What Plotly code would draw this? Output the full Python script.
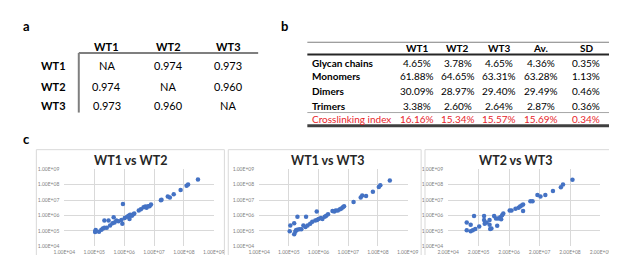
import plotly.graph_objects as go

W, H = 617, 255

# ---------------- data ----------------
a_labels = ["WT1", "WT2", "WT3"]
a_values = [["NA", "0.974", "0.973"],
            ["0.974", "NA", "0.960"],
            ["0.973", "0.960", "NA"]]

b_columns = ["WT1", "WT2", "WT3", "Av.", "SD"]
b_rows = ["Glycan chains", "Monomers", "Dimers", "Trimers", "Crosslinking index"]
b_glycan = ["4.65%", "3.78%", "4.65%", "4.36%", "0.35%"]
b_monomers = ["61.88%", "64.65%", "63.31%", "63.28%", "1.13%"]
b_dimers = ["30.09%", "28.97%", "29.40%", "29.49%", "0.46%"]
b_trimers = ["3.38%", "2.60%", "2.64%", "2.87%", "0.36%"]
b_crosslink = ["16.16%", "15.34%", "15.57%", "15.69%", "0.34%"]

# scatter data, log10 of intensities
wt1_vs_wt2_log_x = [5.03, 5.04, 5.05, 5.16, 5.24, 5.29, 5.34, 5.34, 5.42, 5.48, 5.53, 5.61, 5.65, 5.68,
                    5.74, 5.81, 5.91, 5.94, 5.96, 6.02, 6.10, 6.15, 6.18, 6.20, 6.26, 6.31, 6.34, 6.49,
                    6.56, 6.65, 6.71, 6.75, 6.80, 6.85, 6.90, 7.23, 7.25, 7.46, 7.53, 7.66, 7.89, 8.09,
                    8.14, 8.47]
wt1_vs_wt2_log_y = [4.93, 5.00, 5.06, 4.94, 5.08, 5.15, 5.20, 5.67, 5.20, 5.67, 5.35, 5.50, 5.88, 5.54,
                    5.67, 5.63, 5.71, 5.46, 6.75, 5.83, 5.92, 5.98, 5.77, 6.04, 5.98, 6.08, 6.13, 6.33,
                    6.40, 6.54, 6.58, 6.50, 6.60, 6.60, 6.71, 6.98, 7.02, 7.23, 7.17, 7.38, 7.65, 7.92,
                    8.00, 8.33]

wt1_vs_wt3_log_x = [5.03, 5.05, 5.18, 5.18, 5.22, 5.24, 5.29, 5.28, 5.35, 5.42, 5.49, 5.58, 5.56, 5.63,
                    5.72, 5.79, 5.89, 5.95, 5.94, 6.00, 6.08, 6.13, 6.21, 6.26, 6.32, 6.47, 6.53, 6.58,
                    6.65, 6.72, 6.77, 6.82, 6.86, 7.18, 7.42, 7.47, 7.60, 7.83, 8.03, 8.08, 8.40]
wt1_vs_wt3_log_y = [4.98, 5.35, 5.50, 4.79, 4.94, 5.04, 5.92, 5.08, 5.10, 5.10, 5.35, 5.92, 5.25, 5.35,
                    5.46, 5.60, 5.67, 5.71, 6.25, 5.77, 5.83, 5.77, 5.92, 5.98, 6.08, 6.29, 6.25, 6.33,
                    6.33, 6.40, 6.46, 6.54, 6.60, 6.88, 7.17, 7.29, 7.27, 7.54, 7.85, 7.96, 8.27]

wt2_vs_wt3_log_x = [4.61, 4.61, 4.74, 4.74, 4.81, 4.85, 4.89, 5.02, 5.18, 5.18, 5.20, 5.26, 5.36, 5.36,
                    5.38, 5.42, 5.51, 5.57, 5.61, 5.64, 5.71, 5.74, 5.77, 5.81, 6.02, 6.08, 6.21, 6.31,
                    6.36, 6.41, 6.46, 6.46, 6.70, 6.77, 6.93, 7.03, 7.19, 7.44, 7.70, 7.77, 8.08]
wt2_vs_wt3_log_y = [5.54, 5.04, 5.40, 4.98, 5.04, 5.96, 5.13, 5.29, 5.96, 5.71, 5.46, 5.54, 5.71, 5.40,
                    5.13, 5.15, 5.96, 5.81, 5.33, 5.81, 5.88, 5.75, 6.02, 6.13, 6.33, 6.33, 6.44, 6.50,
                    6.58, 6.65, 6.71, 6.29, 6.92, 6.92, 7.33, 7.23, 7.33, 7.58, 7.83, 8.00, 8.31]

log_ticks = [4, 5, 6, 7, 8, 9]
tick_text_1 = ["1.00E+04", "1.00E+05", "1.00E+06", "1.00E+07", "1.00E+08", "1.00E+09"]
tick_text_2 = ["2.00E+04", "2.00E+05", "2.00E+06", "2.00E+07", "2.00E+08", "2.00E+09"]

panel_titles = ["WT1 vs WT2", "WT1 vs WT3", "WT2 vs WT3"]

# ---------------- helpers ----------------
def px(x):
    return x / W

def py(y):
    return 1 - y / H

FONT = "Lato"
BLUE = "#4472C4"
RED = "#E8262B"

fig = go.Figure()
annotations = []
shapes = []

def text(x, y, s, size=11, bold=False, color="#000000", xanchor="center"):
    annotations.append(dict(
        x=px(x), y=py(y), xref="paper", yref="paper", showarrow=False,
        text=f"<b>{s}</b>" if bold else s, xanchor=xanchor, yanchor="middle",
        font=dict(family=FONT, size=size, color=color)))

def line(x0, y0, x1, y1, color, width):
    shapes.append(dict(type="line", xref="paper", yref="paper",
                       x0=px(x0), y0=py(y0), x1=px(x1), y1=py(y1),
                       line=dict(color=color, width=width)))

# panel letters
text(8, 15, "a", size=13, bold=True)
text(275, 15, "b", size=13, bold=True)
text(8, 131, "c", size=13, bold=True)

# ---------------- table a ----------------
a_col_x = [91, 155, 217]
a_row_y = [56, 77, 97]
for cx, lab in zip(a_col_x, a_labels):
    text(cx, 36, lab, size=11, bold=True)
for ry, lab, row in zip(a_row_y, a_labels, a_values):
    text(51, ry, lab, size=11, bold=True, xanchor="right")
    for cx, v in zip(a_col_x, row):
        text(cx, ry, v, size=11)
line(62, 43, 248, 43, "#7f7f7f", 2)
line(62, 43, 62, 104, "#7f7f7f", 2)

# ---------------- table b ----------------
b_col_x = [413, 455, 498, 541, 588]
b_row_y = [53, 67, 82, 97, 111]
for cx, lab in zip(b_col_x, b_columns):
    text(cx, 38, lab, size=10, bold=True)
b_data = [b_glycan, b_monomers, b_dimers, b_trimers, b_crosslink]
for i, (ry, lab, row) in enumerate(zip(b_row_y, b_rows, b_data)):
    is_red = i == len(b_rows) - 1
    col = RED if is_red else "#000000"
    text(302, ry, lab, size=10, bold=not is_red, color=col, xanchor="left")
    for cx, v in zip(b_col_x, row):
        text(cx, ry, v, size=10, color=col)
line(299, 32, 612, 32, "#7f7f7f", 1.2)
line(299, 44.5, 612, 44.5, "#262626", 2)
line(299, 104, 612, 104, "#a6a6a6", 1)
line(299, 117.5, 612, 117.5, "#404040", 3)

# ---------------- scatter panels ----------------
panels = [
    dict(box=(18, 213), title_x=116, plot=(47, 202), x=wt1_vs_wt2_log_x, y=wt1_vs_wt2_log_y, xt=tick_text_1),
    dict(box=(217, 417), title_x=320, plot=(249, 403), x=wt1_vs_wt3_log_x, y=wt1_vs_wt3_log_y, xt=tick_text_1),
    dict(box=(421, 613), title_x=515, plot=(445, 603), x=wt2_vs_wt3_log_x, y=wt2_vs_wt3_log_y, xt=tick_text_2),
]
plot_top, plot_bot = 162, 241
layout_axes = {}
for i, p in enumerate(panels):
    k = "" if i == 0 else str(i + 1)
    b0, b1 = p["box"]
    shapes.append(dict(type="rect", xref="paper", yref="paper",
                       x0=px(b0), x1=px(b1), y0=py(254.5), y1=py(142),
                       line=dict(color="#d9d9d9", width=1), fillcolor="rgba(0,0,0,0)"))
    text(p["title_x"], 153, panel_titles[i], size=12.5, bold=True, color="#262626")
    fig.add_trace(go.Scatter(x=p["x"], y=p["y"], mode="markers", xaxis="x" + k, yaxis="y" + k,
                             marker=dict(color=BLUE, size=4.5), showlegend=False))
    layout_axes["xaxis" + k] = dict(
        domain=[px(p["plot"][0]), px(p["plot"][1])], range=[4, 9], anchor="y" + k,
        tickvals=log_ticks, ticktext=p["xt"], showgrid=True, gridcolor="#d9d9d9", gridwidth=1,
        zeroline=False, showline=False, ticks="", ticklabelstandoff=2,
        tickfont=dict(family=FONT, size=5, color="#7f7f7f"))
    layout_axes["yaxis" + k] = dict(
        domain=[py(plot_bot), py(plot_top)], range=[4, 9], anchor="x" + k,
        tickvals=log_ticks, ticktext=tick_text_1, showgrid=True, gridcolor="#d9d9d9", gridwidth=1,
        zeroline=False, showline=False, ticks="", ticklabelstandoff=4,
        tickfont=dict(family=FONT, size=5, color="#7f7f7f"))

fig.update_layout(
    width=W, height=H, autosize=False,
    margin=dict(l=0, r=0, t=0, b=0),
    paper_bgcolor="white", plot_bgcolor="white",
    annotations=annotations, shapes=shapes,
    font=dict(family=FONT),
    **layout_axes,
)

fig.write_html("out.html")
